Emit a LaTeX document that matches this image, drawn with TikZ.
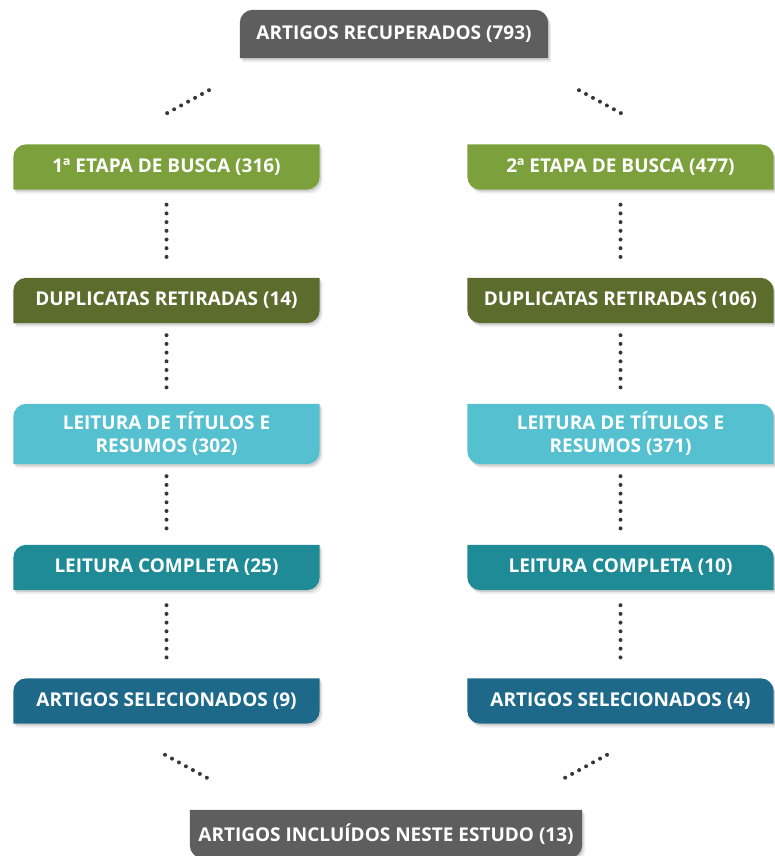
\documentclass[tikz,border=0pt]{standalone}
\usepackage{fontspec}
\setmainfont{Open Sans}
\usetikzlibrary{positioning, calc, backgrounds}
\definecolor{cinza}{RGB}{94,94,94}
\definecolor{verdeA}{RGB}{124,161,60}
\definecolor{verdeB}{RGB}{92,108,45}
\definecolor{cianoA}{RGB}{84,192,208}
\definecolor{cianoB}{RGB}{30,139,150}
\definecolor{azul}{RGB}{30,105,138}
\definecolor{ponto}{RGB}{55,55,55}
\tikzset{
	etapa/.style={
		rectangle,
		minimum width=306pt,
		minimum height=45pt,
		inner sep=2pt,
		align=center,
		text=white,
		font=\bfseries\fontsize{19}{23}\selectfont,
	},
	pontos/.style={draw=ponto, line width=4pt, line cap=round, dash pattern=on 0pt off 8.7pt},
	diag/.style={pontos, dash pattern=on 0pt off 7.95pt},
}
% contorno: no, raio NW, NE, SE, SW
\newcommand{\contorno}[5]{($(#1.north west)+(#2,0)$) -- ($(#1.north east)-(#3,0)$) arc[start angle=90,end angle=0,radius=#3] -- ($(#1.south east)+(0,#4)$) arc[start angle=0,end angle=-90,radius=#4] -- ($(#1.south west)+(#5,0)$) arc[start angle=-90,end angle=-180,radius=#5] -- ($(#1.north west)-(0,#2)$) arc[start angle=180,end angle=90,radius=#2] -- cycle}
% caixa: no, cor, raios
\newcommand{\caixa}[6]{%
	\begin{scope}[on background layer]
		\fill[black, opacity=0.07, transform canvas={shift={(3pt,-4pt)}}] \contorno{#1}{#3}{#4}{#5}{#6};
		\fill[black, opacity=0.12, transform canvas={shift={(1.5pt,-2pt)}}] \contorno{#1}{#3}{#4}{#5}{#6};
		\fill[#2] \contorno{#1}{#3}{#4}{#5}{#6};
	\end{scope}
}

\begin{document}
\begin{tikzpicture}[node distance=133.5pt]
	\useasboundingbox (0,0) rectangle (775pt,-856pt);
	\node[etapa, minimum width=308pt, minimum height=48pt] (T) at (394pt,-34pt) {ARTIGOS RECUPERADOS (793)};
	
	\node[etapa] (L1) at (166.5pt,-167pt) {1ª ETAPA DE BUSCA (316)};
	\node[etapa, below of = L1] (L2) {DUPLICATAS RETIRADAS (14)};
	\node[etapa, below of = L2, minimum height=60pt] (L3) {LEITURA DE TÍTULOS E\\RESUMOS (302)};
	\node[etapa, below of = L3] (L4) {LEITURA COMPLETA (25)};
	\node[etapa, below of = L4] (L5) {ARTIGOS SELECIONADOS (9)};
	
	\node[etapa, right of = L1, node distance=454pt] (R1) {2ª ETAPA DE BUSCA (477)};
	\node[etapa, below of = R1] (R2) {DUPLICATAS RETIRADAS (106)};
	\node[etapa, below of = R2, minimum height=60pt] (R3) {LEITURA DE TÍTULOS E\\RESUMOS (371)};
	\node[etapa, below of = R3] (R4) {LEITURA COMPLETA (10)};
	\node[etapa, below of = R4] (R5) {ARTIGOS SELECIONADOS (4)};
	
	\node[etapa, minimum width=392pt, minimum height=48pt] (B) at (386pt,-834pt) {ARTIGOS INCLUÍDOS NESTE ESTUDO (13)};
	
	\caixa{T}{cinza}{13pt}{13pt}{0.01pt}{0.01pt}
	\caixa{B}{cinza}{0.01pt}{0.01pt}{13pt}{13pt}
	\foreach \n/\c in {1/verdeA, 2/verdeB, 3/cianoA, 4/cianoB, 5/azul}{
		\caixa{L\n}{\c}{13pt}{0.01pt}{13pt}{0.01pt}
		\caixa{R\n}{\c}{0.01pt}{13pt}{0.01pt}{13pt}
	}
	
	% pontos diagonais
	\coordinate (ta) at ($(T.south)+(-185pt,-32pt)$);
	\coordinate (tb) at ($(T.south)+(-227pt,-55pt)$);
	\coordinate (tc) at ($(T.south)+(185pt,-32pt)$);
	\coordinate (td) at ($(T.south)+(227pt,-55pt)$);
	\coordinate (ba) at ($(B.north)+(-221pt,55pt)$);
	\coordinate (bb) at ($(B.north)+(-179pt,32pt)$);
	\coordinate (bc) at ($(B.north)+(221pt,55pt)$);
	\coordinate (bd) at ($(B.north)+(179pt,32pt)$);
	\draw[diag] (ta) -- (tb);
	\draw[diag] (tc) -- (td);
	\draw[diag] (ba) -- (bb);
	\draw[diag] (bc) -- (bd);
	
	% pontos verticais
	\foreach \s in {L, R}{
		\path (\s1) edge[pontos, shorten <=15pt, shorten >=20pt] (\s2)
		(\s2) edge[pontos, shorten <=12pt, shorten >=16pt] (\s3)
		(\s3) edge[pontos, shorten <=12pt, shorten >=16pt] (\s4)
		(\s4) edge[pontos, shorten <=15pt, shorten >=20pt] (\s5);
	}
\end{tikzpicture}
\end{document}
